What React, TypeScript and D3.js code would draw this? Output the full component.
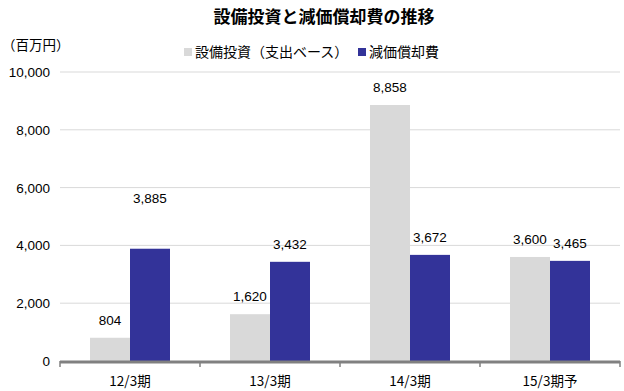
import React from "react";
import * as d3 from "d3";

const categories = ["12/3期", "13/3期", "14/3期", "15/3期予"];
const capex = [804, 1620, 8858, 3600];
const depreciation = [3885, 3432, 3672, 3465];
const seriesNames = ["設備投資（支出ベース）", "減価償却費"];
const yTicks = [0, 2000, 4000, 6000, 8000, 10000];
// extra lift (px) for specific value labels, matching the reference's placement
const capexLabelLift = [0, 0, 0, 0];
const depLabelLift = [33, 0, 0, 0];

const W = 624;
const H = 391;
const colors = ["#d9d9d9", "#333399"];
const numFont = "'Liberation Sans', Arial, sans-serif";
const jpFont = "'Noto Sans CJK JP', sans-serif";

export default function App() {
  const left = 60;
  const right = 620;
  const top = 72;
  const bottom = 361;
  const y = d3.scaleLinear().domain([0, 10000]).range([bottom, top]);
  const x0 = d3.scaleBand<string>().domain(categories).range([left, right]).padding(0);
  const bw = x0.bandwidth();
  const x1 = d3.scaleBand<string>().domain(["a", "b"]).range([bw / 2 - 40, bw / 2 + 40]).padding(0);
  const fmt = d3.format(",");
  const series = [capex, depreciation];
  const lifts = [capexLabelLift, depLabelLift];

  return (
    <svg width={W} height={H} style={{ position: "absolute", left: 0, top: 0, background: "#fff" }}>
      <text x={324} y={23} textAnchor="middle" fontFamily={jpFont} fontWeight="bold" fontSize={17} fill="#000">
        設備投資と減価償却費の推移
      </text>
      <text x={2} y={50} fontFamily={jpFont} fontSize={13.5} fill="#000">
        （百万円）
      </text>
      {/* legend */}
      <rect x={184} y={48} width={8} height={8} fill={colors[0]} />
      <text x={195} y={57} fontFamily={jpFont} fontSize={14} fill="#000">{seriesNames[0]}</text>
      <rect x={358} y={48} width={8} height={8} fill={colors[1]} />
      <text x={369} y={57} fontFamily={jpFont} fontSize={14} fill="#000">{seriesNames[1]}</text>

      {yTicks.map((t) => (
        <g key={t}>
          {t > 0 && <line x1={left} x2={right} y1={y(t)} y2={y(t)} stroke="#d9d9d9" strokeWidth={1} />}
          <text x={50} y={y(t) + 5} textAnchor="end" fontFamily={numFont} fontSize={13.5} fill="#000">
            {fmt(t)}
          </text>
        </g>
      ))}

      {categories.map((c, i) => (
        <g key={c} transform={`translate(${x0(c)},0)`}>
          {series.map((s, k) => {
            const xx = x1(k === 0 ? "a" : "b") as number;
            return (
              <g key={k}>
                <rect x={xx} y={y(s[i])} width={x1.bandwidth()} height={bottom - y(s[i])} fill={colors[k]} />
                <text
                  x={xx + x1.bandwidth() / 2}
                  y={y(s[i]) - 13 - lifts[k][i]}
                  textAnchor="middle"
                  fontFamily={numFont}
                  fontSize={13.5}
                  fill="#000"
                >
                  {fmt(s[i])}
                </text>
              </g>
            );
          })}
          <text x={bw / 2} y={386} textAnchor="middle" fontFamily={jpFont} fontSize={13.5} fill="#000">
            {c}
          </text>
        </g>
      ))}

      <line x1={left} x2={right} y1={bottom + 1} y2={bottom + 1} stroke="#808080" strokeWidth={3} />
      {[...categories.map((c) => x0(c) as number), right].map((tx, i) => (
        <line key={i} x1={tx} x2={tx} y1={bottom} y2={bottom + 6} stroke="#808080" strokeWidth={1.5} />
      ))}
    </svg>
  );
}
